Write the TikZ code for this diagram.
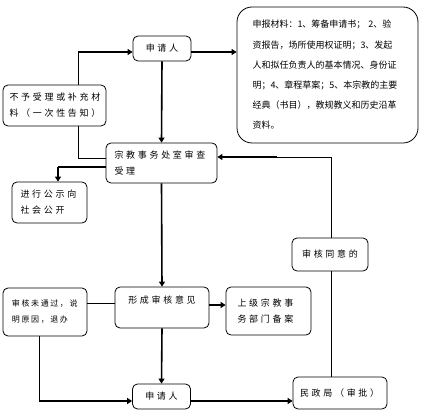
\documentclass[tikz,border=0pt]{standalone}
\usepackage{fontspec}
\newfontfamily\cjk[LetterSpace=30]{Noto Sans CJK SC}
\newfontfamily\cjks[LetterSpace=20]{Noto Sans CJK SC}
\newfontfamily\cjkn{Noto Sans CJK SC}
\usetikzlibrary{arrows.meta}
\begin{document}
\begin{tikzpicture}[x=1pt,y=-1pt,
  box/.style={draw, rounded corners=5pt, fill=white, line width=0.8pt, inner sep=0pt,
    font=\cjk\fontsize{9}{16}\selectfont, align=left},
  arr/.style={line width=1.6pt, -{Triangle[length=5pt,width=6pt]}},
  thk/.style={line width=1.6pt},
  thinl/.style={line width=0.8pt}]
\useasboundingbox (0,0) rectangle (421,417);

% connectors drawn first so boxes cover them
\coordinate (k1) at (78,52);
\coordinate (k2) at (58,167);
\coordinate (k3) at (39,401);
\coordinate (k4) at (331,157);
\coordinate (k5) at (277,157);

% nodes
\node[box, align=center, minimum width=58pt, minimum height=25pt] (sq1) at (162,48.5) {申请人};
\node[box, rounded corners=15pt, minimum width=181pt, minimum height=136pt, text width=150pt,
  font=\cjkn\fontsize{9}{20.2}\selectfont] (sb) at (327.5,75)
  {申报材料：1、筹备申请书；\ 2、验\\资报告，场所使用权证明；3、发起\\人和拟任负责人的基本情况、身份证\\明；4、章程草案；5、本宗教的主要\\经典（书目），教规教义和历史沿革\\资料。};
\node[box, minimum width=111pt, minimum height=40pt, text width=94pt] (zj) at (161.5,163)
  {宗教事务处室审查\\受理};
\node[box, minimum width=58pt, minimum height=25pt, align=center] (sq2) at (161.5,396.5) {申请人};
\node[box, minimum width=94pt, minimum height=41pt, align=center, text depth=16pt] (yj) at (162,307.5) {形成审核意见};

\draw[thinl] (zj.west |- 0,158) -| (k1);
\draw[arr] (k1) -- (k1 -| sq1.west);
\draw[arr] (sq1.east |- k1) -- (k1 -| sb.west);
\draw[arr] (sq1.south) -- (zj.north);
\draw[thk] (zj.west |- k2) -- (k2);

\node[box, minimum width=103pt, minimum height=41pt, text width=90pt] (by) at (54.5,105.5)
  {不予受理或补充材\\料（一次性告知）};
\node[box, minimum width=75pt, minimum height=41pt, text width=58pt] (gs) at (49.5,202.5)
  {进行公示向\\社会公开};
\node[box, minimum width=76pt, minimum height=33pt, align=center] (ty) at (330,254.5) {审核同意的};
\node[box, minimum width=84pt, minimum height=48pt, text width=66pt,
  font=\cjks\fontsize{8}{16}\selectfont] (wtg) at (45,312) {审核未通过，说\\明原因，退办};
\node[box, minimum width=85pt, minimum height=48pt, text width=62pt] (sj) at (268.5,311)
  {上级宗教事\\务部门备案};
\node[box, minimum width=94pt, minimum height=32pt, text width=80pt] (mz) at (340,393) {民政局（审批）};

\draw[arr] (k2) -- (k2 |- gs.north);
\draw[arr] (zj.south) -- (yj.north);
\draw[thinl] (yj.west |- 0,303) -- (wtg.east |- 0,303);
\draw[arr] (yj.east |- 0,305) -- (sj.west |- 0,305);
\draw[arr] (yj.south) -- (sq2.north);
\draw[thinl] (wtg.south -| k3) -- (k3);
\draw[arr] (k3) -- (k3 -| sq2.west);
\draw[arr] (sq2.east |- k3) -- (k3 -| mz.west);
\draw[thinl] (mz.north -| k4) -- (ty.south -| k4);
\draw[thinl] (ty.north -| k4) -- (k4) -- (k5);
\draw[arr] (k5) -- (k5 -| zj.east);
\end{tikzpicture}
\end{document}
